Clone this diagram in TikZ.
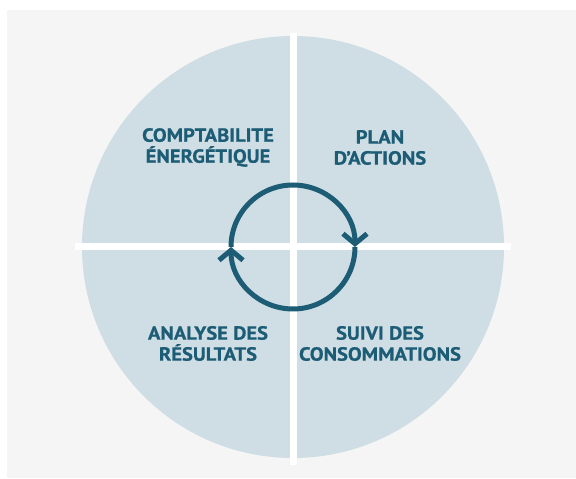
\documentclass[tikz,border=0pt]{standalone}
\usepackage{fontspec}
\setmainfont{PT Sans}[BoldFeatures={FakeStretch=1.08,FakeBold=0.8}]
\usetikzlibrary{arrows.meta}
\definecolor{bgray}{HTML}{F5F5F5}
\definecolor{disc}{HTML}{CFDEE5}
\definecolor{teal}{HTML}{1D5C75}
\tikzset{
  lbl/.style={align=center, text=teal, font=\fontsize{19}{21}\selectfont\bfseries, inner sep=0pt},
  cross/.style={draw=white, line width=7pt},
  ring/.style={draw=teal, line width=5pt, -{Straight Barb[length=10pt,width=24pt]}}
}
\begin{document}
\begin{tikzpicture}[x=1pt,y=1pt]
\useasboundingbox (0,0) rectangle (576,479);
\fill[white] (0,0) rectangle (576,479);
\fill[bgray] (7,1) rectangle (576,469);
\fill[disc] (293,232) circle[radius=211];
\coordinate (vt) at (293,446);
\coordinate (vb) at (293,14);
\coordinate (hl) at (75,232);
\coordinate (hr) at (511,232);
\draw[cross] (vt) -- (vb);
\draw[cross] (hl) -- (hr);
\coordinate (rl) at (231,232);
\coordinate (rr) at (355,232);
\draw[ring] (rl) arc[start angle=180, end angle=0, radius=62];
\draw[ring] (rr) arc[start angle=0, end angle=-180, radius=62];
\node[lbl] (tl) at (208,331.5) {COMPTABILITE\\ÉNERGÉTIQUE};
\node[lbl] (tr) at (380,331.5) {PLAN\\D’ACTIONS};
\node[lbl] (bl) at (208,135.5) {ANALYSE DES\\RÉSULTATS};
\node[lbl] (br) at (380,135.5) {SUIVI DES\\CONSOMMATIONS};
\end{tikzpicture}
\end{document}
